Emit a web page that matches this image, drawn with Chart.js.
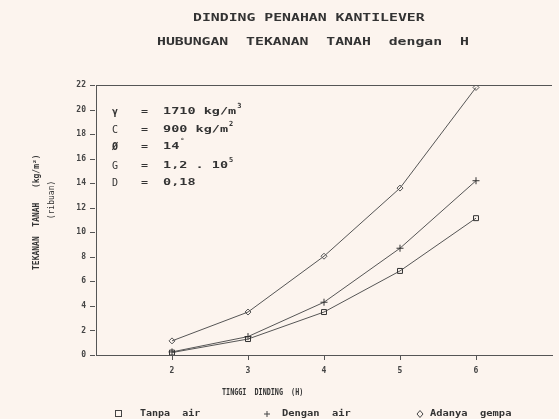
<!DOCTYPE html>
<html>
<head>
<meta charset="utf-8">
<script src="https://cdn.jsdelivr.net/npm/chart.js@4.4.0/dist/chart.umd.min.js"></script>
<style>
  html, body { margin: 0; padding: 0; background: #fcf4ee; }
  #wrap { width: 559px; height: 419px; }
</style>
</head>
<body>
<div id="wrap"><canvas id="myChart"></canvas></div>
<script>
// tinggi dinding H
const heights = [2, 3, 4, 5, 6];
// tekanan tanah (ribuan kg/m2)
const tanpaAir = [0.2, 1.3, 3.5, 6.85, 11.15];
const denganAir = [0.25, 1.5, 4.3, 8.7, 14.2];
const adanyaGempa = [1.15, 3.5, 8.05, 13.6, 21.8];
const xTicks = [2, 3, 4, 5, 6];
const yTicks = [0, 2, 4, 6, 8, 10, 12, 14, 16, 18, 20, 22];

const ink = '#555';
const mono = '"DejaVu Sans Mono", monospace';

function pts(ys) {
    return heights.map(function(h, i) { return { x: h, y: ys[i] }; });
}

// dot-matrix printer look: wide glyphs
function wide(c, text, x, y, sx) {
    c.save();
    c.translate(x, y);
    c.scale(sx, 1);
    c.fillText(text, 0, 0);
    const w = c.measureText(text).width * sx;
    c.restore();
    return w;
}

// extra texts: titles, axis titles, parameter box, legend
const decorations = {
    id: 'decorations',
    afterDraw(chart) {
        const c = chart.ctx;
        const a = chart.chartArea;
        const sx = chart.scales.x, sy = chart.scales.y;
        c.save();
        // top frame line
        c.strokeStyle = ink;
        c.lineWidth = 1;
        c.beginPath();
        c.moveTo(a.left, a.top + 0.5);
        c.lineTo(a.right, a.top + 0.5);
        // tick marks
        yTicks.forEach(function(v) {
            const p = Math.round(sy.getPixelForValue(v)) + 0.5;
            c.moveTo(a.left - 6, p);
            c.lineTo(a.left - 1, p);
        });
        xTicks.forEach(function(v) {
            const p = Math.round(sx.getPixelForValue(v)) + 0.5;
            c.moveTo(p, a.bottom);
            c.lineTo(p, a.bottom + 5);
        });
        c.stroke();

        c.fillStyle = '#333';
        c.textBaseline = 'middle';
        c.textAlign = 'left';
        c.font = 'bold 10px ' + mono;
        wide(c, 'DINDING PENAHAN KANTILEVER', 193, 18, 1.48);
        wide(c, 'HUBUNGAN  TEKANAN  TANAH  dengan  H', 157, 42, 1.48);

        c.font = 'bold 9px ' + mono;
        wide(c, 'TINGGI  DINDING  (H)', 222, 393, 0.75);

        // y axis title
        c.save();
        c.translate(37, 270);
        c.rotate(-Math.PI / 2);
        c.font = 'bold 8px ' + mono;
        c.fillText('TEKANAN  TANAH   (kg/m\u00B2)', 0, 0);
        c.restore();
        c.save();
        c.translate(52, 200);
        c.rotate(-Math.PI / 2);
        c.textAlign = 'center';
        c.font = '8px ' + mono;
        c.fillText('(ribuan)', 0, 0);
        c.restore();

        // parameters
        const rows = [
            ['\u03B3', '1710 kg/m', '3'],
            ['C', '900 kg/m', '2'],
            ['\u00D8', '14', '\u00B0'],
            ['G', '1,2 . 10', '5'],
            ['D', '0,18', '']
        ];
        const rowY = [112, 130, 147, 166, 183];
        rows.forEach(function(r, i) {
            c.font = (i === 1 || i >= 3 ? '' : 'bold ') + '10px ' + mono;
            c.fillText(r[0], 112, rowY[i]);
            c.font = 'bold 9px ' + mono;
            wide(c, '=', 141, rowY[i], 1.3);
            const w = wide(c, r[1], 163, rowY[i], 1.5);
            c.font = 'bold 7px ' + mono;
            c.fillText(r[2], 163 + w + 1, rowY[i] - 6);
        });

        // legend
        c.font = 'bold 8px ' + mono;
        c.strokeStyle = '#444';
        c.strokeRect(115.5, 410.5, 6, 6);
        wide(c, 'Tanpa  air', 140, 414, 1.25);
        c.beginPath();
        c.moveTo(264, 414); c.lineTo(270, 414);
        c.moveTo(267, 411); c.lineTo(267, 417);
        c.stroke();
        wide(c, 'Dengan  air', 282, 414, 1.3);
        c.beginPath();
        c.moveTo(420, 410.5); c.lineTo(423, 414); c.lineTo(420, 417.5); c.lineTo(417, 414); c.closePath();
        c.stroke();
        wide(c, 'Adanya  gempa', 430, 414, 1.3);
        c.restore();
    }
};

const ctx = document.getElementById('myChart');
const chart = new Chart(ctx, {
    type: 'line',
    data: {
        datasets: [{
            label: 'Tanpa air',
            data: pts(tanpaAir),
            borderColor: ink,
            borderWidth: 1,
            pointStyle: 'rect',
            pointRadius: 3.5,
            pointBorderColor: '#333',
            pointBackgroundColor: 'rgba(0,0,0,0)',
            pointBorderWidth: 1
        }, {
            label: 'Dengan air',
            data: pts(denganAir),
            borderColor: ink,
            borderWidth: 1,
            pointStyle: 'cross',
            pointRadius: 3.5,
            pointBorderColor: '#333',
            pointBorderWidth: 1
        }, {
            label: 'Adanya gempa',
            data: pts(adanyaGempa),
            borderColor: ink,
            borderWidth: 1,
            pointStyle: 'rectRot',
            pointRadius: 3,
            pointBorderColor: '#555',
            pointBackgroundColor: 'rgba(0,0,0,0)',
            pointBorderWidth: 1
        }]
    },
    options: {
        responsive: true,
        maintainAspectRatio: false,
        animation: false,
        layout: { padding: { left: 56, right: 7, top: 85, bottom: 34 } },
        plugins: {
            legend: { display: false },
            tooltip: { enabled: false }
        },
        scales: {
            x: {
                type: 'linear',
                min: 1,
                max: 7,
                afterBuildTicks(scale) {
                    scale.ticks = xTicks.map(function(v) { return { value: v }; });
                },
                afterFit(scale) { scale.height = 30; },
                border: { color: ink, width: 1 },
                grid: { display: false, tickLength: 5 },
                ticks: { color: '#444', font: { family: mono, size: 8, weight: 'bold' }, padding: 6 }
            },
            y: {
                min: 0,
                max: 22,
                afterBuildTicks(scale) {
                    scale.ticks = yTicks.map(function(v) { return { value: v }; });
                },
                afterFit(scale) { scale.width = 40; },
                border: { color: ink, width: 1 },
                grid: { display: false, tickLength: 6 },
                ticks: { color: '#444', font: { family: mono, size: 8, weight: 'bold' }, padding: 4 }
            }
        }
    },
    plugins: [decorations]
});
</script>
</body>
</html>
